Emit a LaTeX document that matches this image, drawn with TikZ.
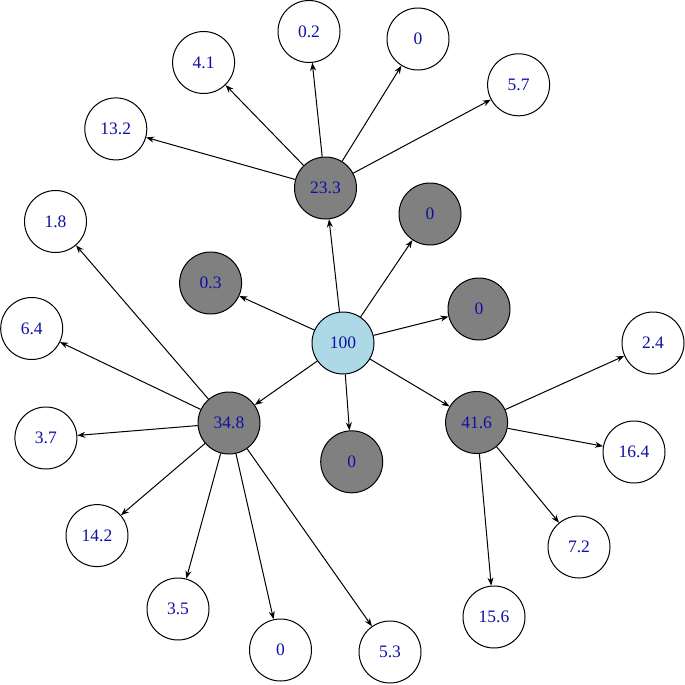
\documentclass[tikz,border=0pt]{standalone}
\usepackage{fontspec}
\setmainfont{Liberation Serif}
\usetikzlibrary{arrows.meta}
\definecolor{lbl}{RGB}{15,15,165}
\definecolor{hub}{RGB}{173,216,230}

\begin{document}
\begin{tikzpicture}[x=1pt, y=-1pt, >={Stealth[length=8pt,width=6pt]},
  leaf/.style={circle, draw, line width=1pt, fill=white, minimum size=62pt, inner sep=0pt,
    text=lbl, font=\fontsize{17.5}{19}\selectfont},
  mid/.style={leaf, fill=black!50},
  root/.style={leaf, fill=hub},
  edge/.style={->, line width=1pt}]
  \useasboundingbox (0,0) rectangle (685,685);

  % --- centro y nodos grises ---
  \node[root] (c) at (343,343) {100};
  \node[mid] (a) at (325.5,188) {23.3};
  \node[mid] (g1) at (430,214) {0};
  \node[mid] (g2) at (210.6,283) {0.3};
  \node[mid] (g3) at (479,309) {0};
  \node[mid] (b) at (229,423) {34.8};
  \node[mid] (d) at (476.6,422.5) {41.6};
  \node[mid] (g4) at (351.7,461.8) {0};

  % --- hojas de 23.3 ---
  \node[leaf] (a1) at (115.8,128.9) {13.2};
  \node[leaf] (a2) at (203.6,62.5) {4.1};
  \node[leaf] (a3) at (309,31.5) {0.2};
  \node[leaf] (a4) at (418,39) {0};
  \node[leaf] (a5) at (518.6,84.8) {5.7};

  % --- hojas de 34.8 ---
  \node[leaf] (b1) at (55.5,221.5) {1.8};
  \node[leaf] (b2) at (31.7,328.5) {6.4};
  \node[leaf] (b3) at (45.9,438) {3.7};
  \node[leaf] (b4) at (97,535.6) {14.2};
  \node[leaf] (b5) at (178,609) {3.5};
  \node[leaf] (b6) at (280.5,650) {0};
  \node[leaf] (b7) at (390,652) {5.3};

  % --- hojas de 41.6 ---
  \node[leaf] (d1) at (653,343) {2.4};
  \node[leaf] (d2) at (634,452) {16.4};
  \node[leaf] (d3) at (579,547) {7.2};
  \node[leaf] (d4) at (494,617) {15.6};

  % --- aristas ---
  \foreach \s/\t in {c/a, c/g1, c/g2, c/g3, c/b, c/d, c/g4,
      a/a1, a/a2, a/a3, a/a4, a/a5,
      b/b1, b/b2, b/b3, b/b4, b/b5, b/b6, b/b7,
      d/d1, d/d2, d/d3, d/d4}
    \draw[edge] (\s) -- (\t);
\end{tikzpicture}
\end{document}
